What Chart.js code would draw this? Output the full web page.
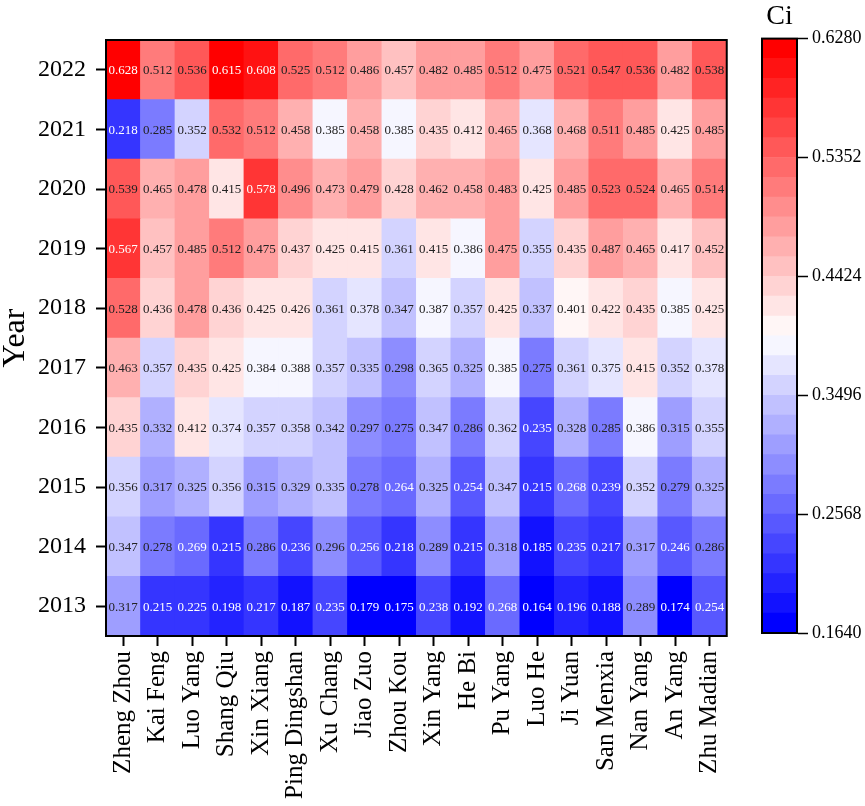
<!DOCTYPE html>
<html>
<head>
<meta charset="utf-8">
<script src="https://cdn.jsdelivr.net/npm/chart.js@4.4.1/dist/chart.umd.min.js"></script>
<style>
  body { margin: 0; background: #fff; }
  #wrap { position: relative; width: 865px; height: 806px; }
  #heatmap { position: absolute; left: 0; top: 0; }
  #colorbar { position: absolute; left: 752px; top: 0; }
</style>
</head>
<body>
<div id="wrap">
  <canvas id="heatmap" width="745" height="806"></canvas>
  <canvas id="colorbar" width="113" height="806"></canvas>
</div>
<script>
const cities = ['Zheng Zhou', 'Kai Feng', 'Luo Yang', 'Shang Qiu', 'Xin Xiang', 'Ping Dingshan',
  'Xu Chang', 'Jiao Zuo', 'Zhou Kou', 'Xin Yang', 'He Bi', 'Pu Yang', 'Luo He', 'Ji Yuan',
  'San Menxia', 'Nan Yang', 'An Yang', 'Zhu Madian'];

// bottom row first
const years = ['2013', '2014', '2015', '2016', '2017', '2018', '2019', '2020', '2021', '2022'];

const ci2022 = [0.628, 0.512, 0.536, 0.615, 0.608, 0.525, 0.512, 0.486, 0.457, 0.482, 0.485, 0.512, 0.475, 0.521, 0.547, 0.536, 0.482, 0.538];
const ci2021 = [0.218, 0.285, 0.352, 0.532, 0.512, 0.458, 0.385, 0.458, 0.385, 0.435, 0.412, 0.465, 0.368, 0.468, 0.511, 0.485, 0.425, 0.485];
const ci2020 = [0.539, 0.465, 0.478, 0.415, 0.578, 0.496, 0.473, 0.479, 0.428, 0.462, 0.458, 0.483, 0.425, 0.485, 0.523, 0.524, 0.465, 0.514];
const ci2019 = [0.567, 0.457, 0.485, 0.512, 0.475, 0.437, 0.425, 0.415, 0.361, 0.415, 0.386, 0.475, 0.355, 0.435, 0.487, 0.465, 0.417, 0.452];
const ci2018 = [0.528, 0.436, 0.478, 0.436, 0.425, 0.426, 0.361, 0.378, 0.347, 0.387, 0.357, 0.425, 0.337, 0.401, 0.422, 0.435, 0.385, 0.425];
const ci2017 = [0.463, 0.357, 0.435, 0.425, 0.384, 0.388, 0.357, 0.335, 0.298, 0.365, 0.325, 0.385, 0.275, 0.361, 0.375, 0.415, 0.352, 0.378];
const ci2016 = [0.435, 0.332, 0.412, 0.374, 0.357, 0.358, 0.342, 0.297, 0.275, 0.347, 0.286, 0.362, 0.235, 0.328, 0.285, 0.386, 0.315, 0.355];
const ci2015 = [0.356, 0.317, 0.325, 0.356, 0.315, 0.329, 0.335, 0.278, 0.264, 0.325, 0.254, 0.347, 0.215, 0.268, 0.239, 0.352, 0.279, 0.325];
const ci2014 = [0.347, 0.278, 0.269, 0.215, 0.286, 0.236, 0.296, 0.256, 0.218, 0.289, 0.215, 0.318, 0.185, 0.235, 0.217, 0.317, 0.246, 0.286];
const ci2013 = [0.317, 0.215, 0.225, 0.198, 0.217, 0.187, 0.235, 0.179, 0.175, 0.238, 0.192, 0.268, 0.164, 0.196, 0.188, 0.289, 0.174, 0.254];

const rows = [ci2013, ci2014, ci2015, ci2016, ci2017, ci2018, ci2019, ci2020, ci2021, ci2022];

const cbMin = 0.164;
const cbMax = 0.628;
const cbTicks = [0.164, 0.2568, 0.3496, 0.4424, 0.5352, 0.628];
const nLevels = 30;

const FONT = '"Liberation Serif", "Times New Roman", serif';
Chart.defaults.color = '#000';
Chart.defaults.font.family = FONT;

// discrete blue-white-red map
function bwr(i) {
  const t = i / (nLevels - 1);
  let r, g, b;
  if (t < 0.5) { r = g = Math.round(510 * t); b = 255; }
  else { r = 255; g = b = Math.round(510 * (1 - t)); }
  return [r, g, b];
}
function levelOf(v) {
  const k = Math.floor((v - cbMin) / (cbMax - cbMin) * nLevels);
  return Math.max(0, Math.min(nLevels - 1, k));
}
const rgb = c => `rgb(${c[0]},${c[1]},${c[2]})`;
function textColor(v) {
  const c = bwr(levelOf(v));
  const lum = 0.299 * c[0] + 0.587 * c[1] + 0.114 * c[2];
  return lum < 130 ? '#fff' : '#222';
}

const frame = {
  id: 'frame',
  afterDraw(chart) {
    const { ctx, chartArea: a } = chart;
    ctx.save();
    ctx.strokeStyle = '#000';
    ctx.lineWidth = 2;
    ctx.strokeRect(a.left, a.top, a.right - a.left, a.bottom - a.top);
    ctx.restore();
  }
};

const cellLabels = {
  id: 'cellLabels',
  afterDatasetsDraw(chart) {
    const ctx = chart.ctx;
    ctx.save();
    ctx.font = '13px ' + FONT;
    ctx.textAlign = 'center';
    ctx.textBaseline = 'middle';
    chart.data.datasets.forEach((ds, di) => {
      chart.getDatasetMeta(di).data.forEach((bar, ci) => {
        const v = ds.values[ci];
        const p = bar.getCenterPoint();
        ctx.fillStyle = textColor(v);
        ctx.fillText(v.toFixed(3), p.x, p.y + 1);
      });
    });
    ctx.restore();
  }
};

new Chart(document.getElementById('heatmap'), {
  type: 'bar',
  data: {
    labels: cities,
    datasets: rows.map((vals, r) => ({
      label: years[r],
      values: vals,
      data: vals.map(() => [r, r + 1]),
      backgroundColor: vals.map(v => rgb(bwr(levelOf(v)))),
      borderWidth: 0,
      grouped: false,
      barPercentage: 1,
      categoryPercentage: 1
    }))
  },
  options: {
    responsive: false,
    animation: false,
    layout: { padding: { top: 40, right: 18, left: 0, bottom: 0 } },
    plugins: { legend: { display: false }, tooltip: { enabled: false } },
    scales: {
      x: {
        type: 'category',
        afterFit: s => { s.height = 170; },
        grid: { offset: false, drawOnChartArea: false, tickLength: 10, tickWidth: 2, tickColor: '#000' },
        border: { display: true, color: '#000', width: 2 },
        ticks: { autoSkip: false, minRotation: 90, maxRotation: 90, padding: 5, font: { size: 25 } }
      },
      y: {
        type: 'linear',
        min: 0,
        max: years.length,
        afterFit: s => { s.width = 106; },
        afterBuildTicks: s => { s.ticks = years.map((y, i) => ({ value: i + 0.5 })); },
        grid: { drawOnChartArea: false, tickLength: 10, tickWidth: 2, tickColor: '#000' },
        border: { display: true, color: '#000', width: 2 },
        ticks: { padding: 10, font: { size: 24 }, callback: v => years[Math.round(v - 0.5)] },
        title: { display: true, text: 'Year', font: { size: 32, lineHeight: 1 }, padding: { top: 0, bottom: 0 } }
      }
    }
  },
  plugins: [cellLabels, frame]
});

// colour bar
const levels = Array.from({ length: nLevels }, (_, i) => i);
const step = (cbMax - cbMin) / nLevels;

new Chart(document.getElementById('colorbar'), {
  type: 'bar',
  data: {
    labels: ['Ci'],
    datasets: levels.map(i => ({
      data: [[cbMin + i * step, cbMin + (i + 1) * step]],
      backgroundColor: rgb(bwr(i)),
      borderWidth: 0,
      grouped: false,
      barPercentage: 1,
      categoryPercentage: 1
    }))
  },
  options: {
    responsive: false,
    animation: false,
    layout: { padding: { left: 10, right: 0, top: 0, bottom: 173 } },
    plugins: {
      legend: { display: false },
      tooltip: { enabled: false },
      title: { display: true, text: 'Ci', fullSize: false, font: { size: 28, weight: 'normal', lineHeight: 1.2 }, padding: { top: 0, bottom: 5 } }
    },
    scales: {
      x: { type: 'category', display: false },
      y: {
        type: 'linear',
        position: 'right',
        min: cbMin,
        max: cbMax,
        afterFit: s => { s.width = 68; },
        afterBuildTicks: s => { s.ticks = cbTicks.map(v => ({ value: v })); },
        grid: { drawOnChartArea: false, tickLength: 11, tickWidth: 1.5, tickColor: '#000' },
        border: { display: true, color: '#000', width: 2 },
        ticks: { padding: 4, font: { size: 18 }, callback: v => v.toFixed(4) }
      }
    }
  },
  plugins: [frame]
});
</script>
</body>
</html>
